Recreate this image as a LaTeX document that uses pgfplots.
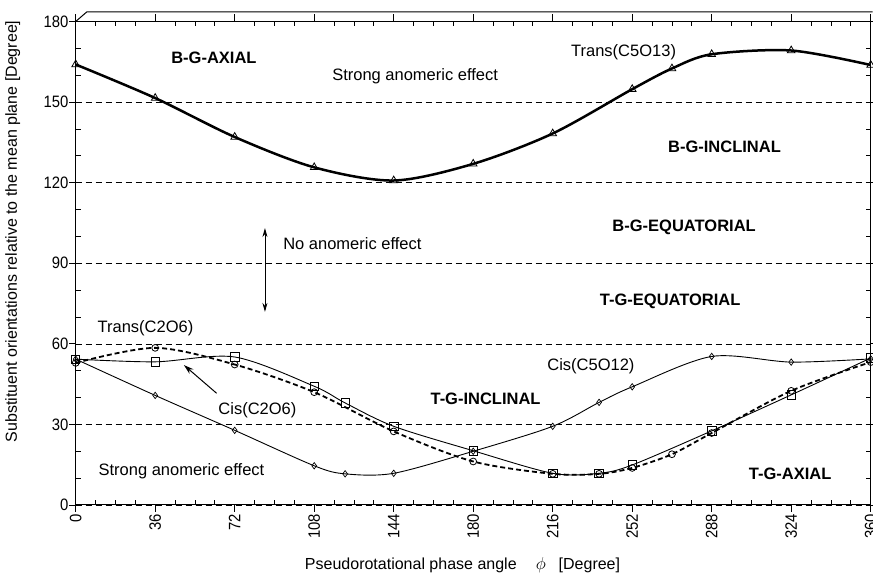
\documentclass[border=0pt]{standalone}
\usepackage{pgfplots}
\pgfplotsset{compat=1.18}
\usetikzlibrary{arrows.meta}
\usepackage{fontspec}
\setmainfont{Liberation Sans}
\newfontfamily\narrowfont[FakeStretch=0.9]{Liberation Sans}
\newcommand\lab{\fontsize{16.5}{19}\selectfont}
\newcommand\blab{\fontsize{16.5}{19}\selectfont\bfseries}
\begin{document}
\begin{tikzpicture}
\useasboundingbox (-75.7pt,-70pt) rectangle (797.3pt,505pt);
\begin{axis}[
  scale only axis, width=795pt, height=483.5pt,
  xmin=0, xmax=360, ymin=0, ymax=180,
  xtick={0,36,...,360}, ytick={0,30,...,180},
  minor x tick num=3, minor y tick num=2,
  tick align=inside,
  major tick length=-7pt, minor tick length=5pt,
  xtick pos=both, ytick pos=both,
  xticklabel pos=lower, yticklabel pos=left,
  tick style={black, line width=0.8pt},
  axis line style={line width=1pt},
  /pgf/number format/assume math mode=true,
  tick label style={font=\narrowfont\fontsize{16.5}{19}\selectfont, inner sep=0pt},
  xticklabel style={rotate=90, anchor=east},
  xticklabel shift=9pt,
  yticklabel shift=7pt,
  ymajorgrids, grid style={black, line width=0.6pt, dash pattern=on 6pt off 4pt},
  xlabel={Pseudorotational phase angle\hspace{1.2em}$\phi$\hspace{0.8em}[Degree]},
  ylabel={Substituent orientations relative to the mean plane [Degree]},
  label style={font=\fontsize{16}{19}\selectfont},
  xlabel style={at={(axis description cs:0.4866,-0.124)}, anchor=center},
  ylabel style={at={(axis description cs:-0.0792,0.566)}, anchor=center},
  clip=false,
]
% Trans(C5O13)
\addplot[black, line width=2.5pt, smooth, mark=triangle, mark size=4.4pt, mark options={solid, fill=white, line width=0.8pt}] coordinates {
(0,164) (36,151.5) (72,137) (108,125.7) (144,120.8) (180,127) (216,138.3) (252,154.8) (270,162.5) (288,167.8) (324,169.2) (360,163.8)};
% Trans(C2O6)
\addplot[black, line width=1.8pt, dash pattern=on 5pt off 3pt, smooth, mark=o, mark size=3.4pt, mark options={solid, fill=white, line width=0.8pt}] coordinates {
(0,52.9) (36,58.5) (72,52.3) (108,42) (144,27.4) (180,16.2) (216,11.6) (237,11.6) (252,13.8) (270,18.9) (288,26.8) (324,42.5) (360,53.2)};
% Cis(C2O6)
\addplot[black, line width=0.9pt, smooth, mark=square, mark size=4.2pt, mark options={solid, fill=white, line width=0.8pt}] coordinates {
(0,54.3) (36,53.3) (72,55.1) (108,44.2) (122,38) (144,29.3) (180,20.2) (216,11.8) (237,11.8) (252,14.9) (288,27.6) (324,41) (360,54.7)};
% Cis(C5O12)
\addplot[black, line width=0.9pt, smooth, mark=diamond, mark size=3.2pt, mark options={solid, fill=white, line width=0.7pt}] coordinates {
(0,54.3) (36,40.8) (72,27.8) (108,14.6) (122,11.6) (144,11.8) (180,20) (216,29.3) (237,38.2) (252,44) (288,55.3) (324,53.2) (360,54.4)};

\node[font=\blab] at (axis cs:62.6,166.3) {B-G-AXIAL};
\node[font=\lab] at (axis cs:153.7,159.7) {Strong anomeric effect};
\node[font=\lab] at (axis cs:248.1,168.7) {Trans(C5O13)};
\node[font=\blab] at (axis cs:293.8,133.4) {B-G-INCLINAL};
\node[font=\blab] at (axis cs:275.5,103.4) {B-G-EQUATORIAL};
\node[font=\blab] at (axis cs:269.2,75.7) {T-G-EQUATORIAL};
\node[font=\lab, anchor=west, inner sep=0pt] at (axis cs:93.9,97.2) {No anomeric effect};
\draw[{Stealth[length=9pt,width=5pt]}-{Stealth[length=9pt,width=5pt]}, line width=0.8pt] (axis cs:85.7,103.1) -- (axis cs:85.7,71.9);
\node[font=\lab] at (axis cs:31.6,65.9) {Trans(C2O6)};
\node[font=\lab] at (axis cs:82.3,35.4) {Cis(C2O6)};
\draw[-{Stealth[length=10pt,width=6pt]}, line width=1pt] (axis cs:63.8,41.6) -- (axis cs:49,52.1);
\node[font=\lab] at (axis cs:233.3,51.5) {Cis(C5O12)};
\node[font=\blab] at (axis cs:185.6,39.5) {T-G-INCLINAL};
\node[font=\blab] at (axis cs:323.5,11.5) {T-G-AXIAL};
\node[font=\lab] at (axis cs:47.9,12.7) {Strong anomeric effect};
\draw[line width=1pt] (rel axis cs:0,1) -- ([shift={(11pt,9.5pt)}]rel axis cs:0,1) -- ([shift={(2pt,9.5pt)}]rel axis cs:1,1);
\end{axis}
\end{tikzpicture}
\end{document}
